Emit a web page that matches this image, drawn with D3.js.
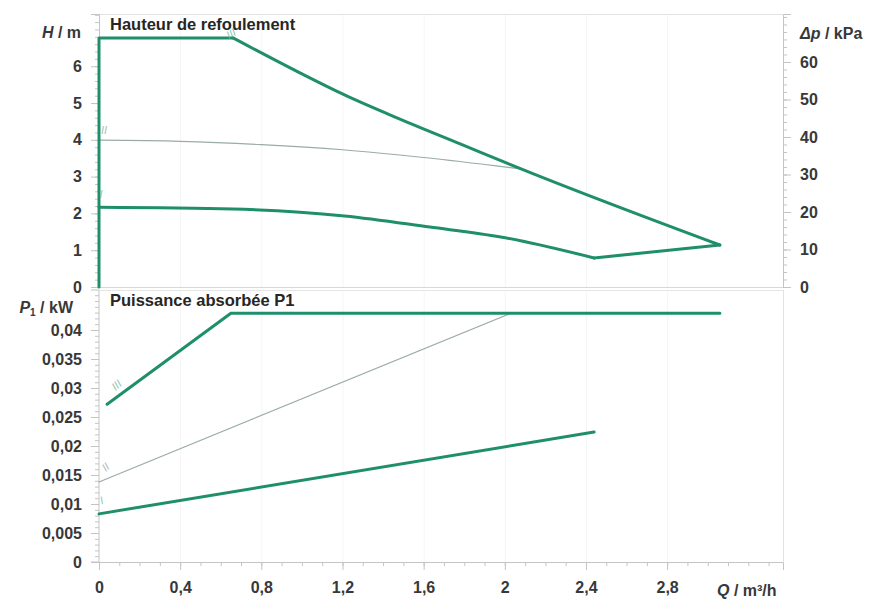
<!DOCTYPE html>
<html>
<head>
<meta charset="utf-8">
<script src="https://cdn.jsdelivr.net/npm/d3@7"></script>
<style>
  html, body { margin: 0; padding: 0; background: #fff; }
  svg { display: block; }
  text { font-family: "Liberation Sans", Arial, sans-serif; }
</style>
</head>
<body>
<svg id="chart" width="883" height="599"></svg>
<script>
// Pump characteristic: delivery head (top) and absorbed power (bottom) vs flow rate
const flowTicks = [0, 0.4, 0.8, 1.2, 1.6, 2, 2.4, 2.8];
const headTicks = [0, 1, 2, 3, 4, 5, 6];
const pressureTicks = [0, 10, 20, 30, 40, 50, 60];
const powerTicks = [0, 0.005, 0.01, 0.015, 0.02, 0.025, 0.03, 0.035, 0.04];

// Speed III (max) head: Q = 0 edge, flat top, then the falling branch
const headIIIEdgeQ = [0, 0, 0.66];
const headIIIEdgeH = [0, 6.77, 6.77];
const headIIIQ = [0.66, 0.99, 1.21, 1.48, 1.78, 2.08, 3.06];
const headIIIH = [6.77, 5.82, 5.22, 4.57, 3.89, 3.21, 1.14];
// Speed II head curve
const headIIQ = [0, 0.4, 0.8, 1.2, 1.6, 2.08];
const headIIH = [3.99, 3.96, 3.87, 3.73, 3.52, 3.21];
// Speed I head curve and the end-of-range line back to the max curve
const headIQ = [0, 0.66, 1.21, 1.63, 1.98, 2.44];
const headIH = [2.17, 2.12, 1.93, 1.63, 1.36, 0.79];
const headEndQ = [2.44, 3.06];
const headEndH = [0.79, 1.14];

// Absorbed power P1 per speed
const powerIIIQ = [0.04, 0.65, 3.06];
const powerIIIP = [0.0272, 0.0429, 0.0429];
const powerIIQ = [0, 2.03];
const powerIIP = [0.0138, 0.0429];
const powerIQ = [0, 2.44];
const powerIP = [0.0083, 0.0224];

const green = "#1f8f6b";
const thinCol = "#9aaca4";
const axisCol = "#c4c4c4";
const textCol = "#383838";
const fs = 16;

const svg = d3.select("#chart");
const L = 99, R = 783;
const topT = 14, topB = 287;
const botT = 290, botB = 562;

const x = d3.scaleLinear().domain([0, 3.371]).range([L, R]);
const yH = d3.scaleLinear().domain([0, 7.42]).range([topB, topT]);
const yDp = d3.scaleLinear().domain([0, 7.42 * 9.81]).range([topB, topT]);
const yP = d3.scaleLinear().domain([0, 0.0469]).range([botB, botT]);

const comma = d => String(+d.toFixed(4)).replace(".", ",");

// faint vertical gridlines
[[topT, topB], [botT, botB]].forEach(([a, b]) => {
  svg.append("g").selectAll("line").data(flowTicks.slice(1)).join("line")
    .attr("x1", d => x(d) + 0.5).attr("x2", d => x(d) + 0.5)
    .attr("y1", a).attr("y2", b)
    .attr("stroke", "#f5f5f5").attr("stroke-width", 1);
});

// panel frames
svg.append("line").attr("x1", L).attr("x2", R).attr("y1", topT + 0.5).attr("y2", topT + 0.5)
  .attr("stroke", "#e2e2e2");
svg.append("line").attr("x1", L).attr("x2", R).attr("y1", topB + 0.5).attr("y2", topB + 0.5)
  .attr("stroke", "#d8d8d8");
svg.append("line").attr("x1", L).attr("x2", R).attr("y1", botT + 0.5).attr("y2", botT + 0.5)
  .attr("stroke", "#e6e6e6");
svg.append("line").attr("x1", R + 0.5).attr("x2", R + 0.5).attr("y1", botT).attr("y2", botB)
  .attr("stroke", "#e2e2e2");

function styleAxis(g) {
  g.select(".domain").attr("stroke", axisCol);
  g.selectAll(".tick line").attr("stroke", axisCol);
  g.selectAll("text").attr("fill", textCol).attr("font-size", fs)
    .attr("font-weight", "bold");
}

// minor ticks
function minor(g, scale, vals, orient, len) {
  g.append("g").selectAll("line").data(vals).join("line")
    .attr("stroke", axisCol)
    .each(function (d) {
      const s = d3.select(this);
      if (orient === "left") s.attr("x1", 0).attr("x2", -len).attr("y1", scale(d) + 0.5).attr("y2", scale(d) + 0.5);
      if (orient === "right") s.attr("x1", 0).attr("x2", len).attr("y1", scale(d) + 0.5).attr("y2", scale(d) + 0.5);
      if (orient === "bottom") s.attr("y1", 0).attr("y2", len).attr("x1", scale(d) + 0.5).attr("x2", scale(d) + 0.5);
    });
}

// left head axis
const gH = svg.append("g").attr("transform", `translate(${L},0)`)
  .call(d3.axisLeft(yH).tickValues(headTicks).tickSize(8).tickPadding(9).tickFormat(comma));
styleAxis(gH);
minor(gH, yH, d3.range(0, 7.41, 0.2), "left", 4);

// right pressure axis
const gDp = svg.append("g").attr("transform", `translate(${R},0)`)
  .call(d3.axisRight(yDp).tickValues(pressureTicks).tickSize(8).tickPadding(9));
styleAxis(gDp);
minor(gDp, yDp, d3.range(0, 72.5, 2), "right", 4);

// left power axis
const gP = svg.append("g").attr("transform", `translate(${L},0)`)
  .call(d3.axisLeft(yP).tickValues(powerTicks).tickSize(8).tickPadding(9).tickFormat(comma));
gP.select(".domain").attr("d", `M-8,${botT}H0V${botB}H-8`);
styleAxis(gP);
minor(gP, yP, d3.range(0, 0.0466, 0.001), "left", 4);

// bottom flow axis
const gQ = svg.append("g").attr("transform", `translate(0,${botB})`)
  .call(d3.axisBottom(x).tickValues(flowTicks).tickSize(8).tickPadding(12).tickFormat(comma));
styleAxis(gQ);
minor(gQ, x, d3.range(0, 3.35, 0.1), "bottom", 4);

// axis unit labels
const H = svg.append("text").attr("x", 81).attr("y", 38).attr("text-anchor", "end")
  .attr("fill", textCol).attr("font-size", fs).attr("font-weight", "bold");
H.append("tspan").attr("font-style", "italic").text("H");
H.append("tspan").text(" / m");

const Pl = svg.append("text").attr("x", 73).attr("y", 313).attr("text-anchor", "end")
  .attr("fill", textCol).attr("font-size", fs).attr("font-weight", "bold");
Pl.append("tspan").attr("font-style", "italic").text("P");
Pl.append("tspan").attr("font-size", 10).attr("dy", 3).text("1");
Pl.append("tspan").attr("dy", -3).text(" / kW");

const Dp = svg.append("text").attr("x", 800).attr("y", 39)
  .attr("fill", textCol).attr("font-size", fs).attr("font-weight", "bold");
Dp.append("tspan").attr("font-style", "italic").text("Δp");
Dp.append("tspan").text(" / kPa");

const Ql = svg.append("text").attr("x", 717).attr("y", 596)
  .attr("fill", textCol).attr("font-size", fs).attr("font-weight", "bold");
Ql.append("tspan").attr("font-style", "italic").text("Q");
Ql.append("tspan").text(" / m³/h");

// panel titles
svg.append("text").attr("x", 110).attr("y", 30).attr("fill", "#262626")
  .attr("font-size", 16.5).attr("font-weight", "bold").text("Hauteur de refoulement");
svg.append("text").attr("x", 110).attr("y", 306).attr("fill", "#262626")
  .attr("font-size", 16.5).attr("font-weight", "bold").text("Puissance absorbée P1");

// curves
const zip = (a, b) => a.map((v, i) => [v, b[i]]);
const lineH = d3.line().x(d => x(d[0])).y(d => yH(d[1]));
const lineHs = d3.line().x(d => x(d[0])).y(d => yH(d[1])).curve(d3.curveMonotoneX);
const lineP = d3.line().x(d => x(d[0])).y(d => yP(d[1]));

function draw(path, col, w) {
  svg.append("path").attr("d", path).attr("fill", "none").attr("stroke", col)
    .attr("stroke-width", w).attr("stroke-linejoin", "round").attr("stroke-linecap", "round");
}

draw(lineHs(zip(headIIQ, headIIH)), thinCol, 1.2);
draw(lineHs(zip(headIQ, headIH)), green, 3);
draw(lineH(zip(headEndQ, headEndH)), green, 3);
draw(lineH(zip(headIIIEdgeQ, headIIIEdgeH)), green, 3);
draw(lineHs(zip(headIIIQ, headIIIH)), green, 3);

draw(lineP(zip(powerIIQ, powerIIP)), thinCol, 1.2);
draw(lineP(zip(powerIQ, powerIP)), green, 3);
draw(lineP(zip(powerIIIQ, powerIIIP)), green, 3);

// speed markers
function mark(txt, px, py, rot, col) {
  svg.append("text").attr("transform", `translate(${px},${py}) rotate(${rot})`)
    .attr("text-anchor", "middle").attr("fill", col).attr("font-size", 11)
    .attr("font-style", "italic").attr("opacity", 0.8).text(txt);
}
mark("III", 233, 37, -30, "#7bb7a0");
mark("II", 104, 134, 0, "#8fb3a3");
mark("I", 101, 198, 0, "#7bb7a0");
mark("III", 119, 388, -40, "#7bb7a0");
mark("II", 108, 470, -40, "#9aaca4");
mark("I", 103, 504, -20, "#7bb7a0");
</script>
</body>
</html>
